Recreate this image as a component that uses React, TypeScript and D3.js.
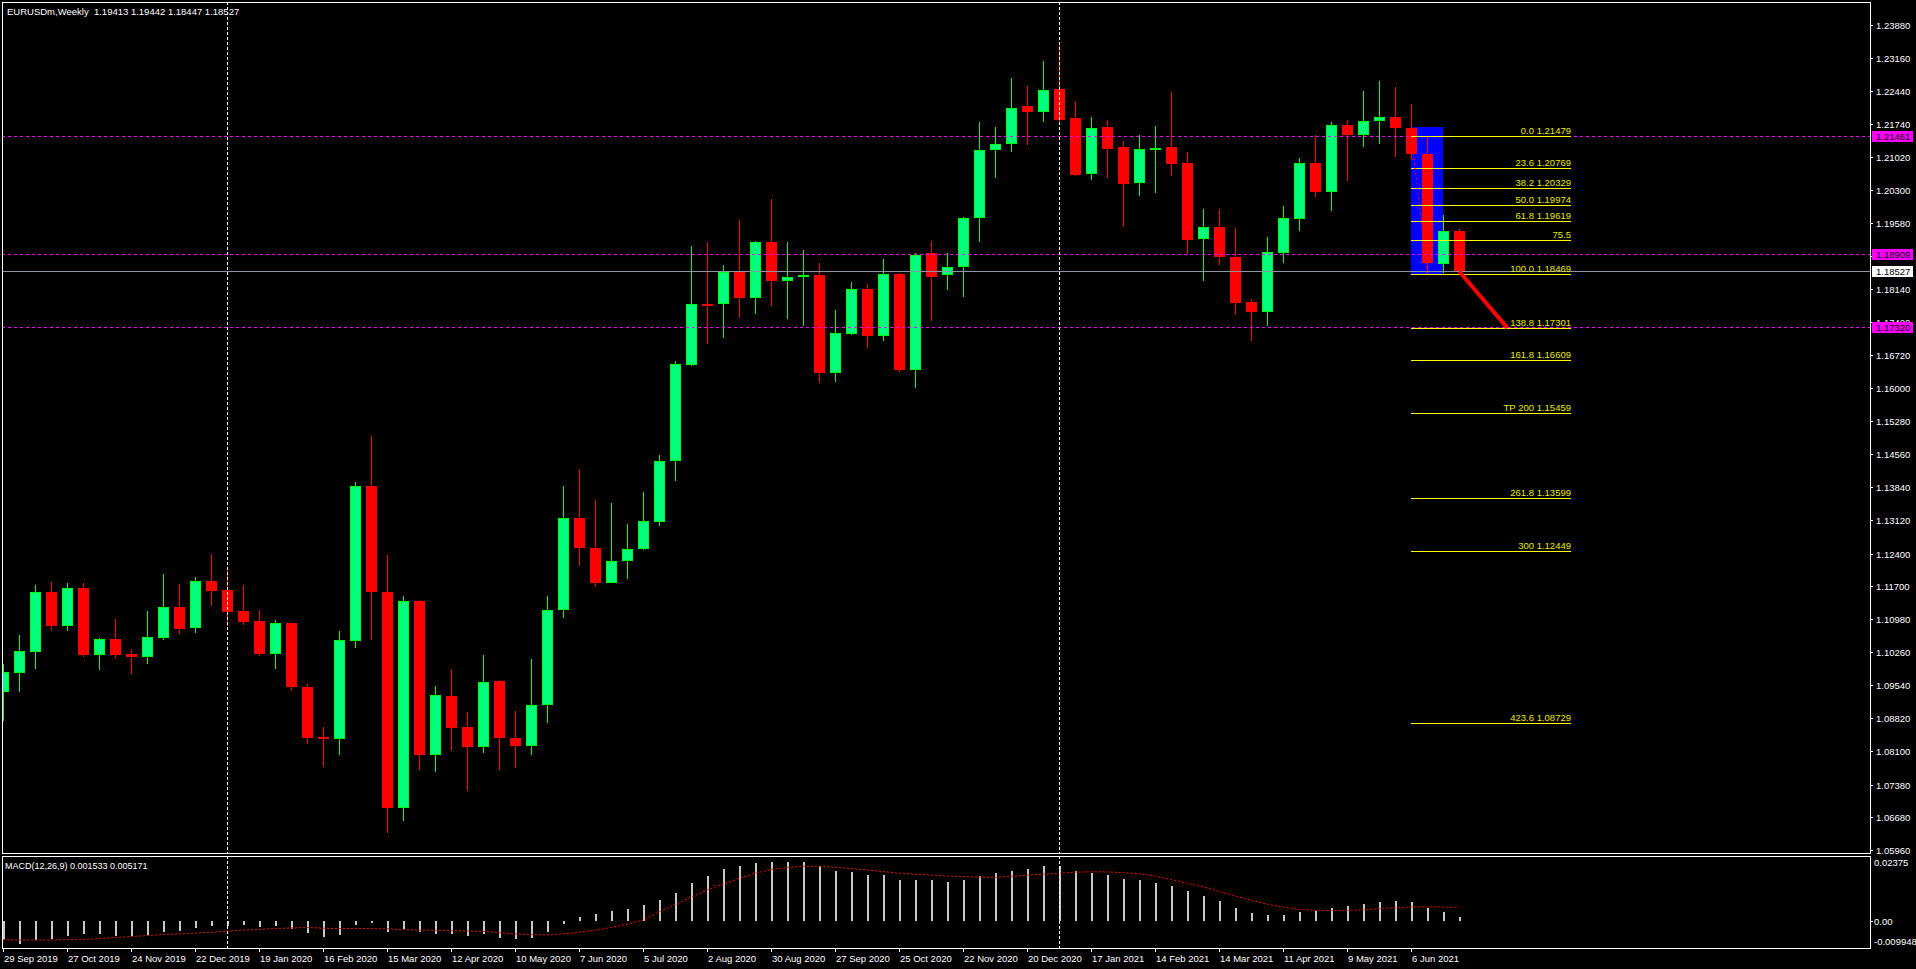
import React from 'react';
import * as d3 from 'd3';

const symbolTitle = 'EURUSDm,Weekly  1.19413 1.19442 1.18447 1.18527';
const macdTitle = 'MACD(12,26,9) 0.001533 0.005171';

// first weekly bar on the chart (Sunday open)
const firstWeek = new Date(2019, 8, 29);

const opens = [
  1.0940, 1.0981, 1.1027, 1.1157, 1.1083, 1.1165, 1.1020, 1.1054, 1.1022, 1.1016,
  1.1057, 1.1124, 1.1079, 1.1180, 1.1161, 1.1115, 1.1093, 1.1022, 1.1089, 1.0950,
  1.0842, 1.0838, 1.1051, 1.1387, 1.1157, 1.0688, 1.1137, 1.0803, 1.0931, 1.0863,
  1.0820, 1.0963, 1.0840, 1.0822, 1.0910, 1.1117, 1.1317, 1.1252, 1.1177, 1.1224,
  1.1249, 1.1309, 1.1440, 1.1649, 1.1783, 1.1782, 1.1852, 1.1796, 1.1916, 1.1833,
  1.1840, 1.1845, 1.1633, 1.1717, 1.1815, 1.1713, 1.1847, 1.1639, 1.1892, 1.1844,
  1.1863, 1.1969, 1.2117, 1.2130, 1.2212, 1.2200, 1.2249, 1.2186, 1.2065, 1.2166,
  1.2123, 1.2045, 1.2119, 1.2123, 1.2088, 1.1924, 1.1949, 1.1884, 1.1786, 1.1765,
  1.1893, 1.1967, 1.2088, 1.2026, 1.2170, 1.2148, 1.2179, 1.2188, 1.2165, 1.2108,
  1.1868, 1.19413,
];
const highs = [
  1.0999, 1.1063, 1.1172, 1.1178, 1.1176, 1.1176, 1.1057, 1.1098, 1.1033, 1.1115,
  1.1196, 1.1174, 1.1189, 1.1239, 1.1206, 1.1172, 1.1117, 1.1096, 1.1090, 1.0956,
  1.0863, 1.1072, 1.1395, 1.1495, 1.1237, 1.1148, 1.1139, 1.0952, 1.0989, 1.0896,
  1.1020, 1.0965, 1.0899, 1.1011, 1.1148, 1.1387, 1.1424, 1.1356, 1.1350, 1.1304,
  1.1373, 1.1454, 1.1659, 1.1909, 1.1916, 1.1866, 1.1965, 1.1919, 1.2010, 1.1916,
  1.1899, 1.1871, 1.1769, 1.1830, 1.1826, 1.1880, 1.1850, 1.1893, 1.1919, 1.1892,
  1.1971, 1.2177, 1.2167, 1.2273, 1.2256, 1.2310, 1.2350, 1.2223, 1.2188, 1.2182,
  1.2136, 1.2149, 1.2169, 1.2243, 1.2112, 1.1988, 1.1988, 1.1947, 1.1793, 1.1928,
  1.1995, 1.2099, 1.2149, 1.2177, 1.2181, 1.2245, 1.2266, 1.2253, 1.2216, 1.2145,
  1.1975, 1.19442,
];
const lows = [
  1.0877, 1.0940, 1.0989, 1.1072, 1.1072, 1.1016, 1.0987, 1.1011, 1.0978, 1.1000,
  1.1052, 1.1065, 1.1068, 1.1125, 1.1083, 1.1085, 1.1017, 1.0989, 1.0941, 1.0827,
  1.0776, 1.0802, 1.1035, 1.1052, 1.0634, 1.0658, 1.0770, 1.0766, 1.0811, 1.0724,
  1.0807, 1.0769, 1.0775, 1.0802, 1.0871, 1.1100, 1.1213, 1.1168, 1.1176, 1.1185,
  1.1247, 1.1299, 1.1397, 1.1648, 1.1695, 1.1709, 1.1752, 1.1761, 1.1778, 1.1749,
  1.1734, 1.1611, 1.1613, 1.1715, 1.1687, 1.1702, 1.1635, 1.1600, 1.1744, 1.1812,
  1.1798, 1.1917, 1.2056, 1.2112, 1.2127, 1.2178, 1.2178, 1.2061, 1.2052, 1.2056,
  1.1950, 1.2017, 1.2022, 1.2061, 1.1890, 1.1833, 1.1867, 1.1757, 1.1702, 1.1735,
  1.1870, 1.1941, 1.2015, 1.1985, 1.2050, 1.2123, 1.2130, 1.2102, 1.2094, 1.1848,
  1.1849, 1.18447,
];
const closes = [
  1.0982, 1.1028, 1.1157, 1.1083, 1.1165, 1.1020, 1.1054, 1.1020, 1.1016, 1.1059,
  1.1124, 1.1076, 1.1180, 1.1159, 1.1114, 1.1092, 1.1022, 1.1089, 1.0949, 1.0840,
  1.0838, 1.1052, 1.1387, 1.1157, 1.0688, 1.1137, 1.0802, 1.0933, 1.0862, 1.0820,
  1.0961, 1.0839, 1.0822, 1.0912, 1.1118, 1.1317, 1.1252, 1.1177, 1.1224, 1.1250,
  1.1310, 1.1442, 1.1651, 1.1781, 1.1778, 1.1852, 1.1796, 1.1916, 1.1832, 1.1840,
  1.1844, 1.1633, 1.1718, 1.1815, 1.1713, 1.1847, 1.1639, 1.1888, 1.1841, 1.1862,
  1.1968, 1.2117, 1.2130, 1.2208, 1.2200, 1.2247, 1.2182, 1.2062, 1.2164, 1.2119,
  1.2043, 1.2119, 1.2121, 1.2087, 1.1922, 1.1949, 1.1883, 1.1784, 1.1765, 1.1894,
  1.1968, 1.2088, 1.2026, 1.2170, 1.2148, 1.2179, 1.2188, 1.2165, 1.2108, 1.1870,
  1.1940, 1.18527,
];

const macdHist = [
  -0.0070, -0.0085, -0.0070, -0.0065, -0.0053, -0.0048, -0.0048, -0.0056, -0.0056, -0.0052,
  -0.0041, -0.0037, -0.0026, -0.0019, -0.0019, -0.0015, -0.0022, -0.0019, -0.0030, -0.0044,
  -0.0059, -0.0052, -0.0015, -0.0007, -0.0041, -0.0030, -0.0041, -0.0048, -0.0048, -0.0056,
  -0.0048, -0.0063, -0.0067, -0.0063, -0.0041, -0.0009, 0.0016, 0.0027, 0.0037, 0.0044,
  0.0059, 0.0078, 0.0107, 0.0144, 0.0167, 0.0193, 0.0204, 0.0218, 0.0222, 0.0222,
  0.0222, 0.0207, 0.0189, 0.0185, 0.0174, 0.0174, 0.0152, 0.0155, 0.0152, 0.0148,
  0.0155, 0.0167, 0.0178, 0.0189, 0.0196, 0.0204, 0.0204, 0.0189, 0.0181, 0.0174,
  0.0159, 0.0152, 0.0144, 0.0133, 0.0111, 0.0093, 0.0074, 0.0048, 0.0030, 0.0022,
  0.0022, 0.0033, 0.0037, 0.0048, 0.0056, 0.0063, 0.0070, 0.0074, 0.0070, 0.0048,
  0.0033, 0.0015,
];
const macdSignal = [
  -0.0068, -0.0070, -0.0070, -0.0070, -0.0068, -0.0067, -0.0065, -0.0060, -0.0057, -0.0053,
  -0.0049, -0.0047, -0.0044, -0.0041, -0.0037, -0.0033, -0.0030, -0.0027, -0.0025, -0.0023,
  -0.0026, -0.0027, -0.0027, -0.0027, -0.0028, -0.0031, -0.0033, -0.0033, -0.0035, -0.0036,
  -0.0038, -0.0042, -0.0047, -0.0049, -0.0051, -0.0047, -0.0041, -0.0033, -0.0023, -0.0011,
  0.0005, 0.0035, 0.0063, 0.0090, 0.0117, 0.0139, 0.0160, 0.0179, 0.0193, 0.0200,
  0.0205, 0.0205, 0.0201, 0.0196, 0.0191, 0.0185, 0.0179, 0.0175, 0.0172, 0.0168,
  0.0167, 0.0164, 0.0164, 0.0167, 0.0172, 0.0175, 0.0179, 0.0183, 0.0184, 0.0184,
  0.0181, 0.0177, 0.0168, 0.0155, 0.0142, 0.0128, 0.0111, 0.0094, 0.0078, 0.0064,
  0.0053, 0.0044, 0.0041, 0.0040, 0.0041, 0.0043, 0.0047, 0.0051, 0.0053, 0.0054,
  0.0053, 0.0052,
];

const priceTicks = [
  '1.23880', '1.23160', '1.22440', '1.21740', '1.21020', '1.20300', '1.19580', '1.18860',
  '1.18140', '1.17420', '1.16720', '1.16000', '1.15280', '1.14560', '1.13840', '1.13120',
  '1.12400', '1.11700', '1.10980', '1.10260', '1.09540', '1.08820', '1.08100', '1.07380',
  '1.06680', '1.05960',
];
const macdMax = 0.02375;
const macdMin = -0.009948;

// horizontal lines drawn by the user
const levelLines = ['1.21461', '1.18909', '1.17320'];
const bidPrice = '1.18527';

// fibo expansion
const fiboLabels = [
  '0.0 1.21479', '23.6 1.20769', '38.2 1.20329', '50.0 1.19974', '61.8 1.19619', '75.5',
  '100.0 1.18469', '138.8 1.17301', '161.8 1.16609', 'TP 200 1.15459', '261.8 1.13599',
  '300 1.12449', '423.6 1.08729',
];
const fiboPrices = [
  1.21479, 1.20769, 1.20329, 1.19974, 1.19619, 1.19206, 1.18469, 1.17301, 1.16609,
  1.15459, 1.13599, 1.12449, 1.08729,
];
const fiboBars = [88, 98];
const boxBars = [88, 90];
const boxPrices = [1.2167, 1.18469];
const trendBars = [91, 94];
const trendPrices = [1.18527, 1.17301];
const zigBars = [88, 89];
const zigPrices = [1.2110, 1.1850];

const W = 1916;
const H = 969;
const LEFT = 2;
const RIGHT = 1870;
const MAIN_TOP = 2;
const MAIN_BOTTOM = 853;
const MACD_TOP = 856;
const MACD_BOTTOM = 948;
const FONT = '"Liberation Sans", Arial, sans-serif';

const App: React.FC = () => {
  const n = opens.length;
  const dates = opens.map((_, i) => d3.timeWeek.offset(firstWeek, i));
  const fmt = d3.timeFormat('%-d %b %Y');

  const x = d3.scaleLinear().domain([0, n - 1]).range([3.33, 3.33 + 16 * (n - 1)]);
  const y = d3.scaleLinear().domain([1.0596, 1.2388]).range([850, 25]);
  const ym = d3.scaleLinear().domain([macdMin, macdMax]).range([948, 857.5]);

  const px = (i: number) => Math.round(x(i));

  const separators = dates
    .map((d, i) => ({ d, i }))
    .filter(({ d, i }) => i > 0 && d.getFullYear() !== dates[i - 1].getFullYear());

  const dateTicks = dates.map((d, i) => ({ d, i })).filter(({ i }) => i % 4 === 0);

  const signalLine = d3.line<number>()
    .x((_, i) => x(i))
    .y(d => ym(d));

  const axisText = { fill: '#ffffff', fontSize: 9.5, fontFamily: FONT };

  return (
    <div style={{ position: 'fixed', left: 0, top: 0, width: W, height: H, background: '#000' }}>
      <svg width={W} height={H} style={{ display: 'block' }}>
        <rect x={0} y={0} width={W} height={H} fill="#000" />
        <defs>
          <clipPath id="mainClip">
            <rect x={LEFT} y={MAIN_TOP} width={RIGHT - LEFT} height={MAIN_BOTTOM - MAIN_TOP} />
          </clipPath>
          <clipPath id="macdClip">
            <rect x={LEFT} y={MACD_TOP} width={RIGHT - LEFT} height={MACD_BOTTOM - MACD_TOP} />
          </clipPath>
        </defs>

        {/* main window */}
        <g clipPath="url(#mainClip)" shapeRendering="crispEdges">
          <rect
            x={px(boxBars[0])}
            y={y(boxPrices[0])}
            width={px(boxBars[1]) - px(boxBars[0])}
            height={y(boxPrices[1]) - y(boxPrices[0])}
            fill="#0000ff"
          />
          {opens.map((o, i) => {
            const c = closes[i];
            const bull = c >= o;
            const col = bull ? '#00ff00' : '#ff0000';
            const cx = px(i);
            const top = Math.round(y(Math.max(o, c)));
            const bot = Math.round(y(Math.min(o, c)));
            const h = Math.max(2, bot - top);
            return (
              <g key={i}>
                <line x1={cx + 0.5} x2={cx + 0.5} y1={y(highs[i])} y2={y(lows[i])} stroke={col} strokeWidth={1} />
                <rect x={cx - 5} y={top} width={11} height={h} fill={col} />
                {bull && h > 2 && (
                  <rect x={cx - 4} y={top + 1} width={9} height={h - 2} fill="#00ff7f" />
                )}
              </g>
            );
          })}
          {levelLines.map(p => (
            <line key={p} x1={LEFT} x2={RIGHT} y1={Math.round(y(+p)) + 0.5} y2={Math.round(y(+p)) + 0.5}
              stroke="#ff00ff" strokeWidth={1} strokeDasharray="3,3" />
          ))}
          <line x1={LEFT} x2={RIGHT} y1={Math.round(y(+bidPrice)) + 0.5} y2={Math.round(y(+bidPrice)) + 0.5}
            stroke="#8a96a3" strokeWidth={1} />
          {fiboPrices.map((p, i) => (
            <g key={fiboLabels[i]}>
              <line x1={px(fiboBars[0])} x2={px(fiboBars[1])} y1={Math.round(y(p)) + 0.5} y2={Math.round(y(p)) + 0.5}
                stroke="#ffff00" strokeWidth={1} />
              <text x={px(fiboBars[1])} y={Math.round(y(p)) - 2} textAnchor="end" fill="#e8e800"
                fontSize={9.5} fontFamily={FONT} shapeRendering="auto">
                {fiboLabels[i]}
              </text>
            </g>
          ))}
          <line x1={x(zigBars[0]) + 2} y1={y(zigPrices[0])} x2={x(zigBars[1])} y2={y(zigPrices[1])}
            stroke="#ff0000" strokeWidth={1} strokeDasharray="2,3" shapeRendering="auto" />
          <line x1={x(trendBars[0])} y1={y(trendPrices[0])} x2={x(trendBars[1])} y2={y(trendPrices[1])}
            stroke="#ff0000" strokeWidth={4} shapeRendering="auto" />
          {separators.map(({ i }) => (
            <line key={i} x1={px(i) + 0.5} x2={px(i) + 0.5} y1={MAIN_TOP} y2={MAIN_BOTTOM}
              stroke="#ffffff" strokeWidth={1} strokeDasharray="3,2" />
          ))}
        </g>

        <text x={7} y={14.5} fill="#ffffff" fontSize={9.5} fontFamily={FONT} style={{ whiteSpace: 'pre' }}>
          {symbolTitle}
        </text>

        {/* MACD window */}
        <g clipPath="url(#macdClip)" shapeRendering="crispEdges">
          {macdHist.map((v, i) => (
            <rect key={i} x={px(i)} y={Math.min(ym(v), ym(0))} width={2}
              height={Math.max(1, Math.abs(ym(v) - ym(0)))} fill="#c8c8c8" />
          ))}
          <path d={signalLine(macdSignal) || ''} fill="none" stroke="#ff0000" strokeWidth={1}
            strokeDasharray="2,2" shapeRendering="auto" />
          {separators.map(({ i }) => (
            <line key={i} x1={px(i) + 0.5} x2={px(i) + 0.5} y1={MACD_TOP} y2={MACD_BOTTOM}
              stroke="#ffffff" strokeWidth={1} strokeDasharray="3,2" />
          ))}
        </g>
        <text x={5} y={869} fill="#ffffff" fontSize={9} fontFamily={FONT}>{macdTitle}</text>

        {/* frames */}
        <g shapeRendering="crispEdges" fill="none" stroke="#ffffff" strokeWidth={1}>
          <rect x={LEFT + 0.5} y={MAIN_TOP + 0.5} width={RIGHT - LEFT} height={MAIN_BOTTOM - MAIN_TOP} />
          <rect x={LEFT + 0.5} y={MACD_TOP + 0.5} width={RIGHT - LEFT} height={MACD_BOTTOM - MACD_TOP} />
        </g>

        {/* price axis */}
        {priceTicks.map(t => {
          const yy = Math.round(y(+t));
          return (
            <g key={t}>
              <line x1={RIGHT} x2={RIGHT + 3} y1={yy + 0.5} y2={yy + 0.5} stroke="#ffffff" shapeRendering="crispEdges" />
              <text x={RIGHT + 6} y={yy + 3.5} {...axisText}>{t}</text>
            </g>
          );
        })}
        {levelLines.map(p => {
          const yy = Math.round(y(+p));
          return (
            <g key={p}>
              <rect x={RIGHT + 2} y={yy - 5} width={41} height={11} fill="#ff00ff" shapeRendering="crispEdges" />
              <text x={RIGHT + 6} y={yy + 3.5} fill="#000000" fontSize={9.5} fontFamily={FONT}>{p}</text>
            </g>
          );
        })}
        <rect x={RIGHT + 2} y={Math.round(y(+bidPrice)) - 5} width={41} height={11} fill="#ffffff" shapeRendering="crispEdges" />
        <text x={RIGHT + 6} y={Math.round(y(+bidPrice)) + 3.5} fill="#000000" fontSize={9.5} fontFamily={FONT}>{bidPrice}</text>

        {/* MACD axis */}
        <text x={RIGHT + 4} y={866} {...axisText}>{macdMax.toFixed(5)}</text>
        <line x1={RIGHT} x2={RIGHT + 3} y1={Math.round(ym(0)) + 0.5} y2={Math.round(ym(0)) + 0.5} stroke="#ffffff" shapeRendering="crispEdges" />
        <text x={RIGHT + 4} y={ym(0) + 3.5} {...axisText}>0.00</text>
        <text x={RIGHT + 4} y={945} {...axisText}>{String(macdMin)}</text>

        {/* time axis */}
        {dateTicks.map(({ d, i }) => (
          <g key={i}>
            <line x1={px(i) + 0.5} x2={px(i) + 0.5} y1={MACD_BOTTOM} y2={MACD_BOTTOM + 4} stroke="#ffffff" shapeRendering="crispEdges" />
            <text x={px(i) + 1} y={962} {...axisText}>{fmt(d)}</text>
          </g>
        ))}
      </svg>
    </div>
  );
};

export default App;
